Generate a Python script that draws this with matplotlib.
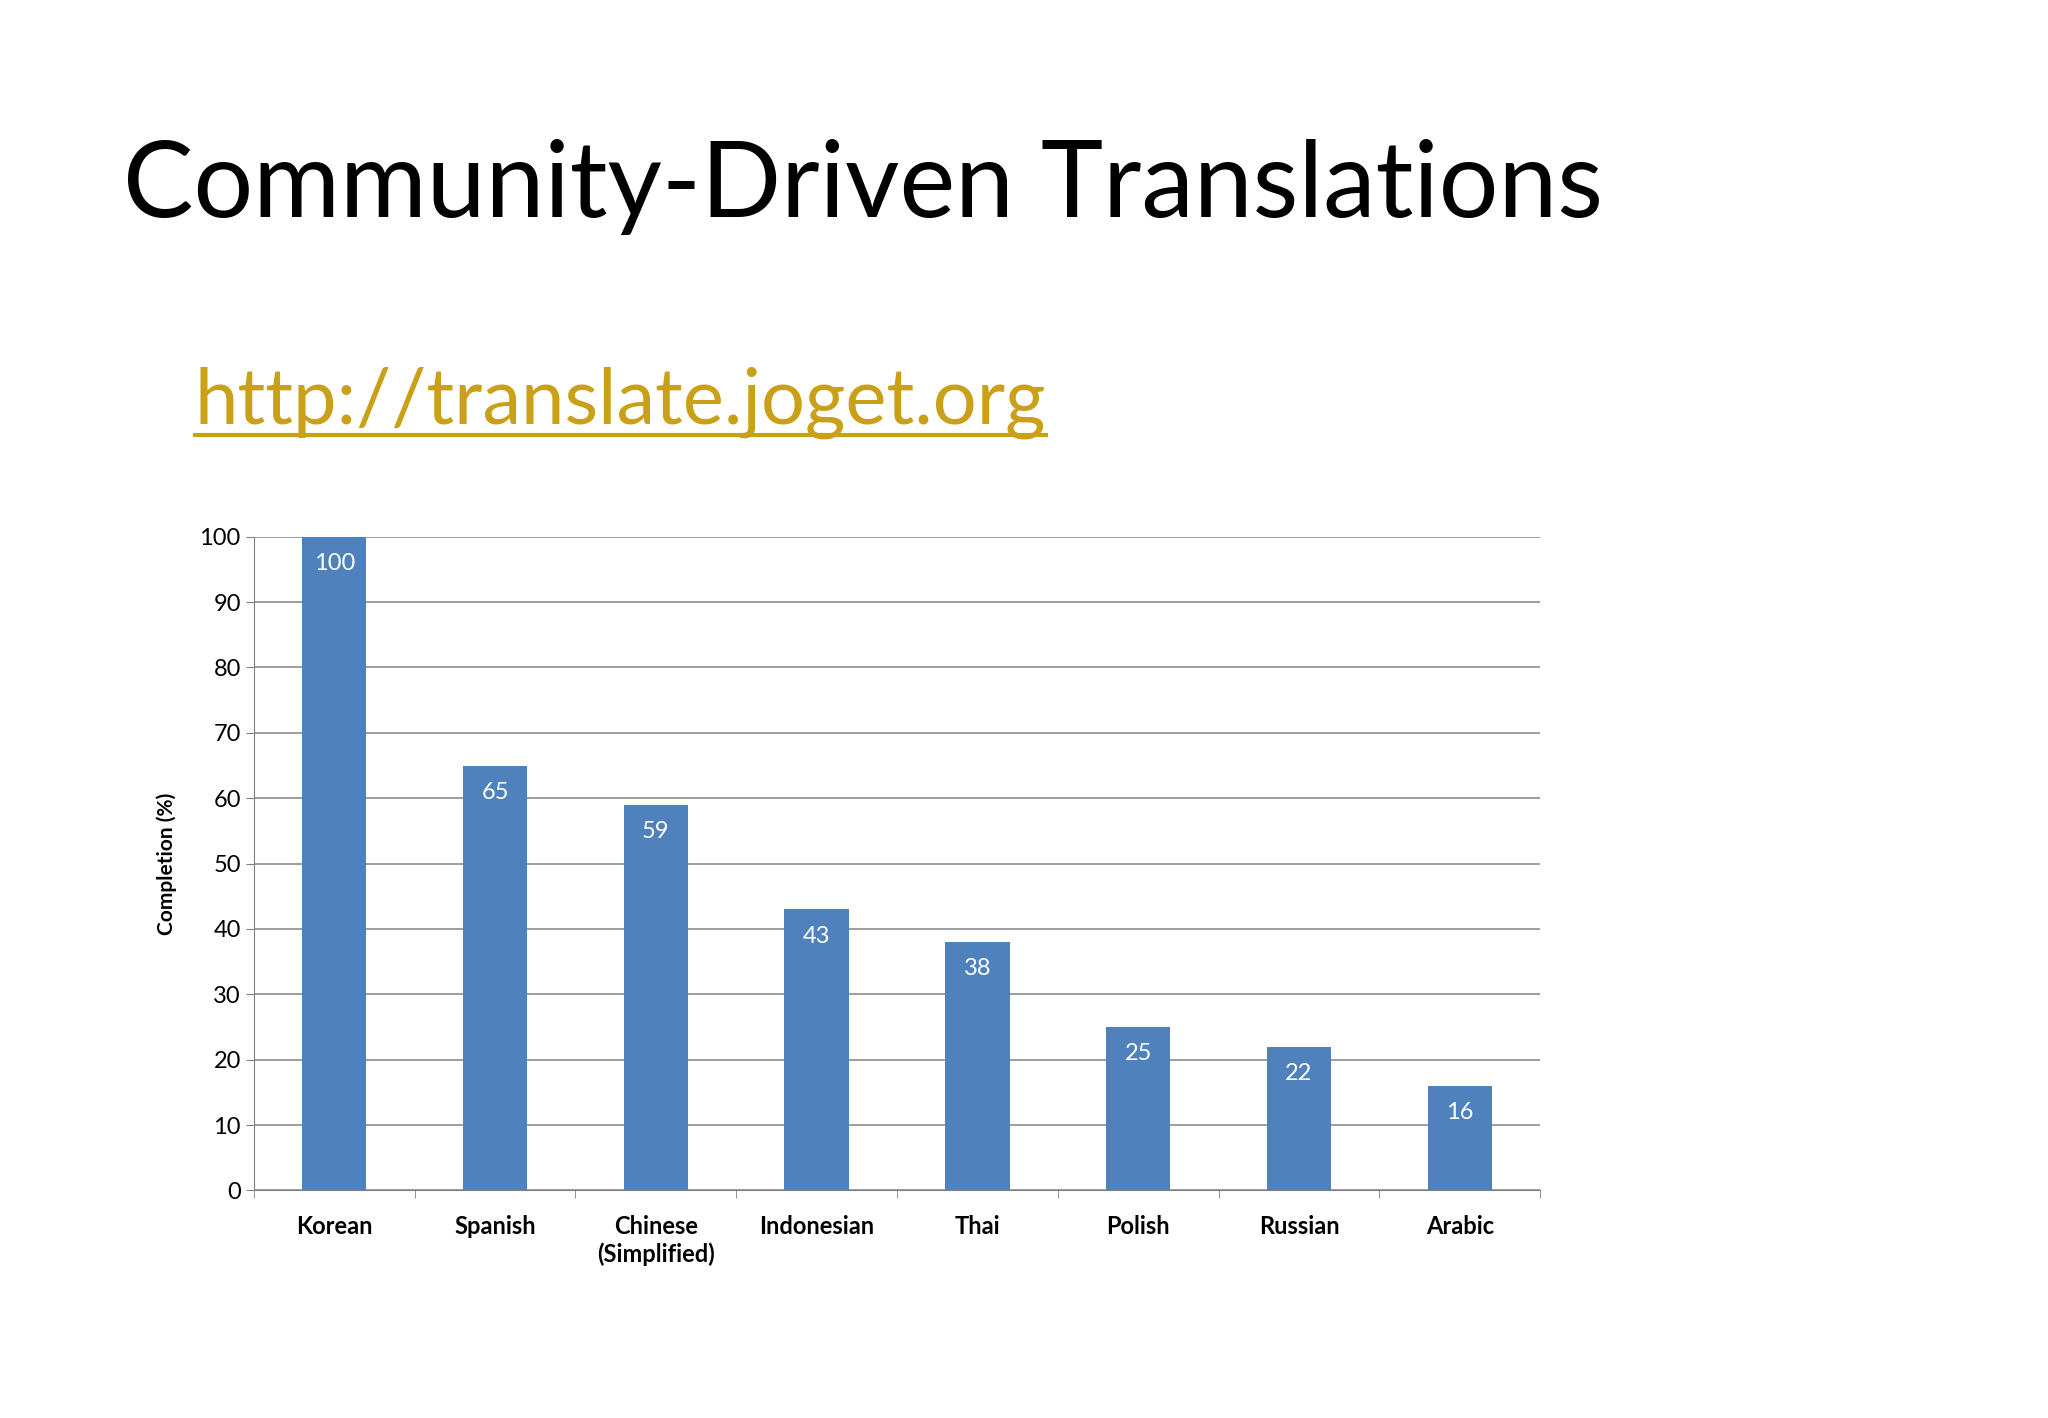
import matplotlib.pyplot as plt
from matplotlib.lines import Line2D

languages = ['Korean', 'Spanish', 'Chinese\n(Simplified)', 'Indonesian', 'Thai',
             'Polish', 'Russian', 'Arabic']
completion = [100, 65, 59, 43, 38, 25, 22, 16]
yticks = list(range(0, 101, 10))

plt.rcParams['font.family'] = ['Lato', 'DejaVu Sans']

fig = plt.figure(figsize=(20.48, 14.18), dpi=100)
fig.patch.set_facecolor('white')

fig.text(0.06, 0.847, 'Community-Driven Translations', fontsize=76, color='black')
url = fig.text(0.095, 0.701, 'http://translate.joget.org', fontsize=56, color='#C9A018')

# underline the link
fig.canvas.draw()
bb = url.get_window_extent().transformed(fig.transFigure.inverted())
fig.add_artist(Line2D([bb.x0, bb.x1], [0.693, 0.693], color='#C9A018', lw=3,
                      transform=fig.transFigure))

ax = fig.add_axes([0.124, 0.1605, 0.628, 0.461])
x = range(len(languages))
ax.bar(x, completion, width=0.4, color='#4F81BD', zorder=3)
for xi, v in zip(x, completion):
    ax.text(xi, v - 2.5, str(v), ha='center', va='top', color='white', fontsize=17, zorder=4)

ax.set_xlim(-0.5, len(languages) - 0.5)
ax.set_ylim(0, 100)
ax.set_yticks(yticks)
ax.tick_params(axis='y', labelsize=17, length=6, color='#808080')
ax.yaxis.grid(True, color='#8c8c8c', lw=1.2, zorder=0)
ax.set_xticks(list(x))
ax.set_xticklabels(languages, fontsize=17, fontweight='bold')
ax.tick_params(axis='x', length=0, pad=18)
ax.set_xticks([i - 0.5 for i in range(len(languages) + 1)], minor=True)
ax.tick_params(axis='x', which='minor', length=6, color='#808080')
for s in ['top', 'right']:
    ax.spines[s].set_visible(False)
ax.spines['left'].set_color('#808080')
ax.spines['bottom'].set_color('#808080')
ax.set_ylabel('Completion (%)', fontsize=15, fontweight='bold', labelpad=16)

fig.savefig('out.png', dpi=100, facecolor='white')
